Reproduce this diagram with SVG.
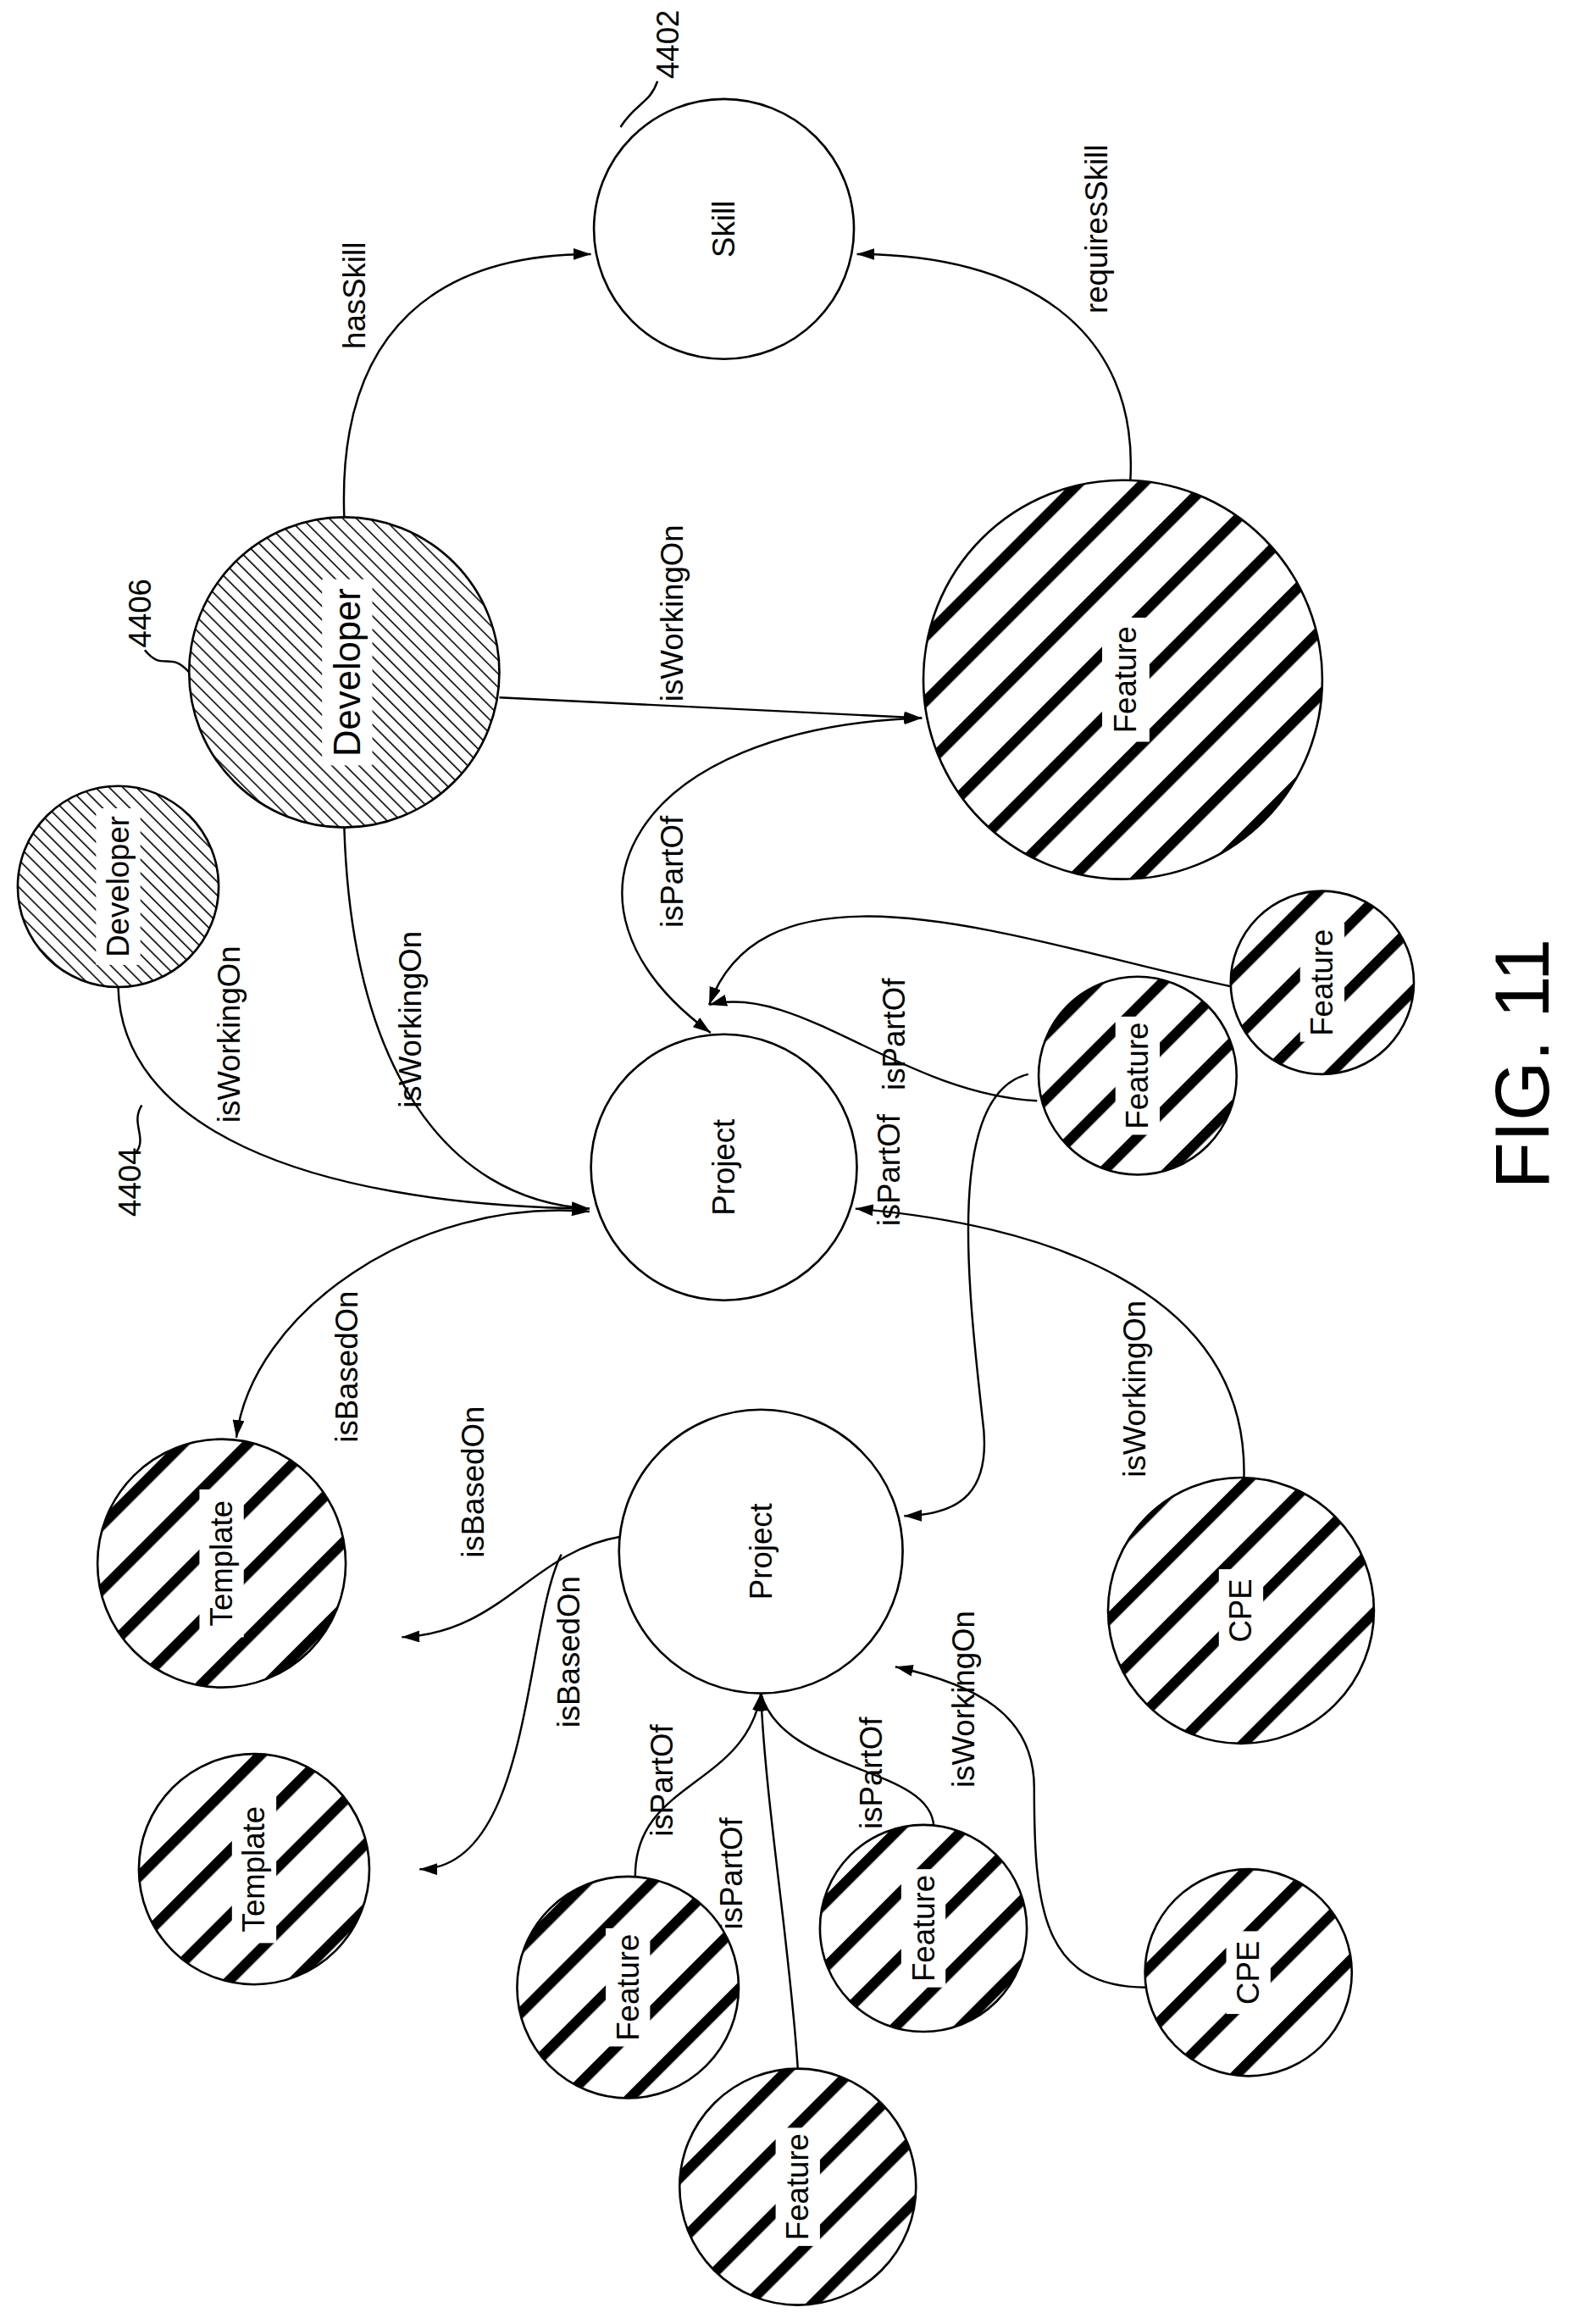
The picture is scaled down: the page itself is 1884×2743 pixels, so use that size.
<svg xmlns="http://www.w3.org/2000/svg" width="1884" height="2743" viewBox="0 0 1884 2743">
<defs>
<pattern id="thick" patternUnits="userSpaceOnUse" width="31" height="31" patternTransform="rotate(45)">
<rect width="31" height="31" fill="#fff"/><rect x="0" y="0" width="7" height="31" fill="#000"/>
</pattern>
<pattern id="fine" patternUnits="userSpaceOnUse" width="6.5" height="6.5" patternTransform="rotate(-45)">
<rect width="6.5" height="6.5" fill="#fff"/><rect x="0" y="0" width="0.9" height="6.5" fill="#000"/>
</pattern>
<marker id="ar" viewBox="0 0 12 8" refX="12" refY="4" markerWidth="12" markerHeight="8" orient="auto-start-reverse" markerUnits="userSpaceOnUse">
<path d="M0,0 L12,4 L0,8 z" fill="#000"/>
</marker>
</defs>
<style>
.n{stroke:#000;stroke-width:1.5}
.e{fill:none;stroke:#000;stroke-width:1.4}
text{font-family:"Liberation Sans",Arial,sans-serif;fill:#000;text-anchor:middle;dominant-baseline:central}
.t{font-size:21px}
.big{font-size:25px}
.fig{font-size:52px}
.lb{fill:#fff}
</style>
<rect width="1884" height="2743" fill="#fff"/>
<g transform="scale(1.744)">
<g id="connectors">
<path class="e" d="M233,350 C228,220 300,172 400,172" marker-end="url(#ar)"/>
<text class="t" transform="translate(240,200) rotate(-90)">hasSkill</text>
<path class="e" d="M765,327 C772,220 690,172 580,172" marker-end="url(#ar)"/>
<text class="t" transform="translate(742,155) rotate(-90)">requiresSkill</text>
<path class="e" d="M338,472 L624,486" marker-end="url(#ar)"/>
<text class="t" transform="translate(455,415) rotate(-90)">isWorkingOn</text>
<path class="e" d="M481,699 C360,610 430,492 624,486" marker-start="url(#ar)" marker-end="url(#ar)"/>
<text class="t" transform="translate(455,590) rotate(-90)">isPartOf</text>
<path class="e" d="M80,668 C82,760 200,815 399,818" marker-end="url(#ar)"/>
<text class="t" transform="translate(155,700) rotate(-90)">isWorkingOn</text>
<path class="e" d="M233,560 C238,720 300,812 399,818" marker-end="url(#ar)"/>
<text class="t" transform="translate(278,690) rotate(-90)">isWorkingOn</text>
<path class="e" d="M702,745 C610,740 540,665 480,680" marker-end="url(#ar)"/>
<text class="t" transform="translate(605,700) rotate(-90)">isPartOf</text>
<path class="e" d="M835,668 C700,640 520,570 480,680" marker-end="url(#ar)"/>
<path class="e" d="M696,727 C640,740 655,870 665,960 C672,1010 650,1025 612,1026" marker-end="url(#ar)"/>
<text class="t" transform="translate(602,792) rotate(-90)">isPartOf</text>
<path class="e" d="M399,820 C280,810 170,890 160,973" marker-start="url(#ar)" marker-end="url(#ar)"/>
<text class="t" transform="translate(235,925) rotate(-90)">isBasedOn</text>
<path class="e" d="M420,1040 C360,1050 340,1105 272,1108" marker-end="url(#ar)"/>
<text class="t" transform="translate(320,1003) rotate(-90)">isBasedOn</text>
<path class="e" d="M380,1052 C355,1100 360,1265 284,1265" marker-end="url(#ar)"/>
<text class="t" transform="translate(385,1118) rotate(-90)">isBasedOn</text>
<path class="e" d="M842,1000 C845,870 700,828 579,818" marker-end="url(#ar)"/>
<text class="t" transform="translate(768,940) rotate(-90)">isWorkingOn</text>
<path class="e" d="M430,1272 C428,1205 505,1210 515,1146" marker-end="url(#ar)"/>
<path class="e" d="M540,1400 C535,1320 518,1220 515,1146" marker-end="url(#ar)"/>
<path class="e" d="M632,1236 C630,1195 530,1200 515,1146"/>
<text class="t" transform="translate(448,1205) rotate(-90)">isPartOf</text>
<text class="t" transform="translate(495,1268) rotate(-90)">isPartOf</text>
<text class="t" transform="translate(590,1200) rotate(-90)">isPartOf</text>
<path class="e" d="M776,1345 C705,1345 700,1290 700,1210 C700,1160 660,1140 606,1128" marker-end="url(#ar)"/>
<text class="t" transform="translate(652,1150) rotate(-90)">isWorkingOn</text>
<path class="e" d="M420,86 C430,70 440,70 445,55"/>
<text class="t" transform="translate(452,30) rotate(-90)">4402</text>
<path class="e" d="M128,455 C115,440 110,455 98,440"/>
<text class="t" transform="translate(95,415) rotate(-90)">4406</text>
<path class="e" d="M96,748 C88,760 100,770 92,780"/>
<text class="t" transform="translate(88,800) rotate(-90)">4404</text>
</g>
<g id="skill"><circle class="n" cx="490" cy="155" r="88" fill="#fff"/><text class="t" transform="translate(490,155) rotate(-90)">Skill</text></g>
<g id="dev1"><circle class="n" cx="233" cy="455" r="105" fill="url(#fine)"/><rect class="lb" x="218" y="392" width="34" height="126"/><text class="big" transform="translate(235,455) rotate(-90)">Developer</text></g>
<g id="dev2"><circle class="n" cx="80" cy="600" r="68" fill="url(#fine)"/><rect class="lb" x="65" y="547" width="30" height="106"/><text class="t" transform="translate(80,600) rotate(-90)">Developer</text></g>
<g id="feature1"><circle class="n" cx="760" cy="460" r="135" fill="url(#thick)"/><rect class="lb" x="746" y="418" width="32" height="84"/><text class="t" transform="translate(762,460) rotate(-90)">Feature</text></g>
<g id="project1"><circle class="n" cx="490" cy="790" r="90" fill="#fff"/><text class="t" transform="translate(490,790) rotate(-90)">Project</text></g>
<g id="feature2"><circle class="n" cx="770" cy="728" r="67" fill="url(#thick)"/><rect class="lb" x="755" y="688" width="30" height="80"/><text class="t" transform="translate(770,728) rotate(-90)">Feature</text></g>
<g id="feature3"><circle class="n" cx="895" cy="665" r="62" fill="url(#thick)"/><rect class="lb" x="880" y="625" width="30" height="80"/><text class="t" transform="translate(895,665) rotate(-90)">Feature</text></g>
<g id="template1"><circle class="n" cx="150" cy="1058" r="84" fill="url(#thick)"/><rect class="lb" x="135" y="1008" width="30" height="100"/><text class="t" transform="translate(150,1058) rotate(-90)">Template</text></g>
<g id="project2"><circle class="n" cx="515" cy="1050" r="96" fill="#fff"/><text class="t" transform="translate(515,1050) rotate(-90)">Project</text></g>
<g id="template2"><circle class="n" cx="172" cy="1265" r="78" fill="url(#thick)"/><rect class="lb" x="157" y="1215" width="30" height="100"/><text class="t" transform="translate(172,1265) rotate(-90)">Template</text></g>
<g id="cpe1"><circle class="n" cx="840" cy="1090" r="90" fill="url(#thick)"/><rect class="lb" x="825" y="1062" width="30" height="56"/><text class="t" transform="translate(840,1090) rotate(-90)">CPE</text></g>
<g id="feature4"><circle class="n" cx="425" cy="1345" r="75" fill="url(#thick)"/><rect class="lb" x="410" y="1305" width="30" height="80"/><text class="t" transform="translate(425,1345) rotate(-90)">Feature</text></g>
<g id="feature5"><circle class="n" cx="625" cy="1305" r="70" fill="url(#thick)"/><rect class="lb" x="610" y="1265" width="30" height="80"/><text class="t" transform="translate(625,1305) rotate(-90)">Feature</text></g>
<g id="feature6"><circle class="n" cx="540" cy="1480" r="80" fill="url(#thick)"/><rect class="lb" x="525" y="1440" width="30" height="80"/><text class="t" transform="translate(540,1480) rotate(-90)">Feature</text></g>
<g id="cpe2"><circle class="n" cx="845" cy="1335" r="70" fill="url(#thick)"/><rect class="lb" x="830" y="1307" width="30" height="56"/><text class="t" transform="translate(845,1335) rotate(-90)">CPE</text></g>
<text class="fig" transform="translate(1030,720) rotate(-90)">FIG. 11</text>
</g>
</svg>
